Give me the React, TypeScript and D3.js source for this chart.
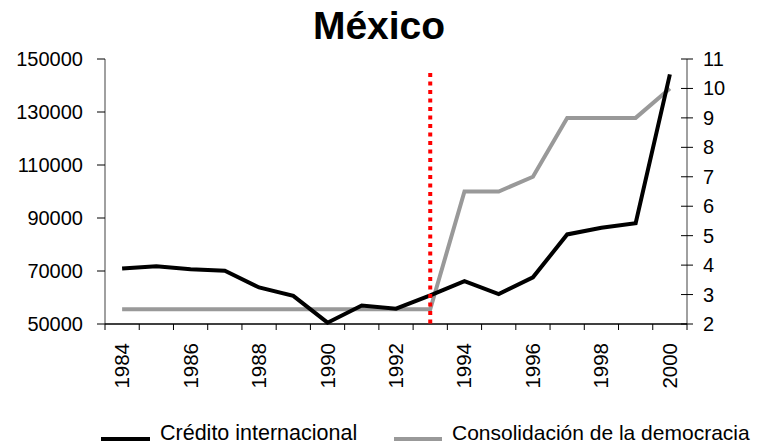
import React from "react";
import * as d3 from "d3";

const years = [1984,1985,1986,1987,1988,1989,1990,1991,1992,1993,1994,1995,1996,1997,1998,1999,2000];
const credito = [70900,71800,70700,70100,63800,60600,50500,57000,55800,60800,66200,61300,67600,83800,86300,88000,144200];
const democracia = [2.5,2.5,2.5,2.5,2.5,2.5,2.5,2.5,2.5,2.5,6.5,6.5,7,9,9,9,10];
const leftTicks = [50000,70000,90000,110000,130000,150000];
const rightTicks = [2,3,4,5,6,7,8,9,10,11];
const yearLabels = [1984,1986,1988,1990,1992,1994,1996,1998,2000];
const markerYear = 1993;

export default function App() {
  const W = 757, H = 445;
  const x0 = 105, x1 = 687, yTop = 59, yBot = 324;
  const x = d3.scaleBand<number>().domain(years).range([x0, x1]);
  const cx = (yr: number) => (x(yr) as number) + x.bandwidth() / 2;
  const yL = d3.scaleLinear().domain([50000, 150000]).range([yBot, yTop]);
  const yR = d3.scaleLinear().domain([2, 11]).range([yBot, yTop]);
  const lineL = d3.line<number>().x((_, i) => cx(years[i])).y(d => yL(d));
  const lineR = d3.line<number>().x((_, i) => cx(years[i])).y(d => yR(d));
  const font = "'Liberation Sans', Arial, sans-serif";
  const boundaries = d3.range(years.length + 1).map(i => x0 + i * x.step());

  return (
    <svg width={W} height={H} style={{ position: "absolute", left: 0, top: 0 }} fontFamily={font}>
      <rect width={W} height={H} fill="#fff" />
      <text x={379} y={39} textAnchor="middle" fontSize={39} fontWeight="bold">México</text>

      {/* left axis */}
      <line x1={x0} x2={x0} y1={yTop} y2={yBot} stroke="#808080" strokeWidth={1.5} />
      {leftTicks.map(t => (
        <g key={t}>
          <line x1={x0 - 8} x2={x0} y1={yL(t)} y2={yL(t)} stroke="#000" strokeWidth={1} />
          <text x={83} y={yL(t)} dy="0.35em" textAnchor="end" fontSize={20}>{t}</text>
        </g>
      ))}

      {/* right axis */}
      <line x1={x1} x2={x1} y1={yTop} y2={yBot} stroke="#808080" strokeWidth={1.5} />
      {rightTicks.map(t => (
        <g key={t}>
          <line x1={x1 - 6} x2={x1 + 6} y1={yR(t)} y2={yR(t)} stroke="#000" strokeWidth={1} />
          <text x={703} y={yR(t)} dy="0.35em" textAnchor="start" fontSize={20}>{t}</text>
        </g>
      ))}

      {/* bottom axis */}
      <line x1={x0} x2={x1} y1={yBot} y2={yBot} stroke="#000" strokeWidth={1.5} />
      {boundaries.map((b, i) => (
        <line key={i} x1={b} x2={b} y1={yBot} y2={yBot + 6} stroke="#000" strokeWidth={1} />
      ))}
      {yearLabels.map(yr => (
        <text key={yr} transform={`translate(${cx(yr) + 7},343) rotate(-90)`} textAnchor="end" fontSize={20.5}>{yr}</text>
      ))}

      {/* series */}
      <path d={lineR(democracia) as string} fill="none" stroke="#999999" strokeWidth={4} strokeLinejoin="miter" />
      <path d={lineL(credito) as string} fill="none" stroke="#000" strokeWidth={4} strokeLinejoin="miter" />

      {/* marker line */}
      <line x1={cx(markerYear)} x2={cx(markerYear)} y1={73} y2={327} stroke="#ff0000" strokeWidth={4} strokeDasharray="4,4.5" />

      {/* legend */}
      <line x1={101} x2={150} y1={439} y2={439} stroke="#000" strokeWidth={4} />
      <text x={160} y={440} fontSize={21.5}>Crédito internacional</text>
      <line x1={394} x2={442} y1={439} y2={439} stroke="#999999" strokeWidth={4} />
      <text x={452} y={440} fontSize={21}>Consolidación de la democracia</text>
    </svg>
  );
}
